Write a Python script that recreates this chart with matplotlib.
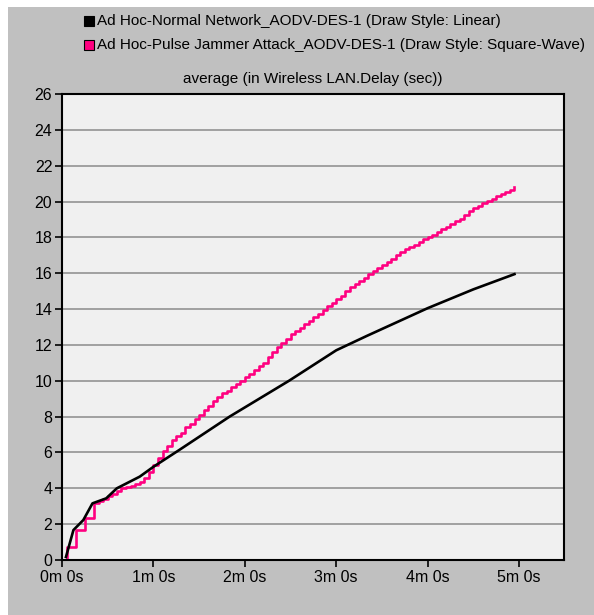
import numpy as np
import matplotlib
matplotlib.use('Agg')
import matplotlib.pyplot as plt
import matplotlib.patches as patches

plt.rcParams['font.family'] = ['Liberation Sans', 'DejaVu Sans']

# time in seconds, average wireless LAN delay (sec)
normal_t = [2.6, 7.5, 14, 20, 29, 36, 51, 60, 77, 110, 149, 180, 200, 240, 270, 297]
normal_v = [0.17, 1.67, 2.23, 3.16, 3.44, 4.0, 4.65, 5.2, 6.14, 8.0, 10.0, 11.7, 12.5, 14.05, 15.1, 15.95]

jammer_t = [2.6, 3, 6, 9, 12, 15, 18, 21, 24, 27, 30, 33, 36, 39, 42, 45, 48, 51, 54, 57,
            60, 63, 66, 69, 72, 75, 78, 81, 84, 87, 90, 93, 96, 99, 102, 105, 108, 111, 114, 117,
            120, 123, 126, 129, 132, 135, 138, 141, 144, 147, 150, 153, 156, 159, 162, 165, 168, 171, 174, 177,
            180, 183, 186, 189, 192, 195, 198, 201, 204, 207, 210, 213, 216, 219, 222, 225, 228, 231, 234, 237,
            240, 243, 246, 249, 252, 255, 258, 261, 264, 267, 270, 273, 276, 279, 282, 285, 288, 291, 294, 297]
jammer_v = [0.0, 0.74, 0.74, 1.67, 1.67, 2.35, 2.35, 3.18, 3.3, 3.4, 3.55, 3.7, 3.85, 4.0, 4.1, 4.15, 4.25, 4.35, 4.6, 4.9,
            5.3, 5.7, 6.1, 6.35, 6.7, 6.9, 7.1, 7.4, 7.6, 7.85, 8.1, 8.37, 8.6, 8.85, 9.1, 9.3, 9.45, 9.65, 9.8, 10.0,
            10.2, 10.4, 10.6, 10.8, 11.0, 11.3, 11.6, 11.9, 12.1, 12.35, 12.6, 12.75, 12.95, 13.15, 13.35, 13.55, 13.75, 13.95, 14.15, 14.35,
            14.55, 14.75, 15.0, 15.25, 15.4, 15.55, 15.75, 15.95, 16.1, 16.3, 16.45, 16.6, 16.8, 17.0, 17.2, 17.35, 17.45, 17.6, 17.75, 17.9,
            18.0, 18.15, 18.3, 18.45, 18.6, 18.75, 18.9, 19.05, 19.25, 19.45, 19.65, 19.75, 19.9, 20.05, 20.15, 20.3, 20.4, 20.55, 20.65, 20.8]

xticks = [0, 60, 120, 180, 240, 300]
xticklabels = ['0m 0s', '1m 0s', '2m 0s', '3m 0s', '4m 0s', '5m 0s']
yticks = list(range(0, 27, 2))

legend_labels = ['Ad Hoc-Normal Network_AODV-DES-1 (Draw Style: Linear)',
                 'Ad Hoc-Pulse Jammer Attack_AODV-DES-1 (Draw Style: Square-Wave)']
colors = ['black', '#ff0080']
title = 'average (in Wireless LAN.Delay (sec))'

W, H = 594, 615
fig = plt.figure(figsize=(W / 100, H / 100), dpi=100, facecolor='white')
# grey panel with small white margin top/left
bg = patches.Rectangle((8 / W, 0), 1 - 8 / W, 1 - 7 / H, transform=fig.transFigure,
                       facecolor='#c0c0c0', edgecolor='none', zorder=-10)
fig.add_artist(bg)

ax = fig.add_axes([62 / W, 1 - 560 / H, (564 - 62) / W, (560 - 94) / H])
ax.set_facecolor('#f0f0f0')

ax.plot(normal_t, normal_v, color=colors[0], lw=1.9, zorder=3)
ax.plot(jammer_t, jammer_v, color=colors[1], lw=1.9, drawstyle='steps-post', zorder=2)

ax.set_xlim(0, 329.5)
ax.set_ylim(0, 26)
ax.set_xticks(xticks)
ax.set_xticklabels(xticklabels)
ax.set_yticks(yticks)
ax.tick_params(axis='both', labelsize=11.5, color='black', width=1.2, length=5, pad=2)
ax.yaxis.grid(True, color='#a0a0a0', lw=1.4)
ax.set_axisbelow(True)
for s in ax.spines.values():
    s.set_color('black')
    s.set_linewidth(1.5)

ax.set_title(title, fontsize=11, pad=8)

# legend drawn by hand (square swatch + text)
for i, lab in enumerate(legend_labels):
    yc = 1 - (21 + i * 24) / H
    sw = patches.Rectangle((84 / W, yc - 5 / H), 10 / W, 10 / H, transform=fig.transFigure,
                           facecolor=colors[i], edgecolor='black', lw=0.8, zorder=2)
    fig.add_artist(sw)
    fig.text(97 / W, yc, lab, fontsize=11, va='center', ha='left')

fig.savefig('out.png', dpi=100, facecolor=fig.get_facecolor())
